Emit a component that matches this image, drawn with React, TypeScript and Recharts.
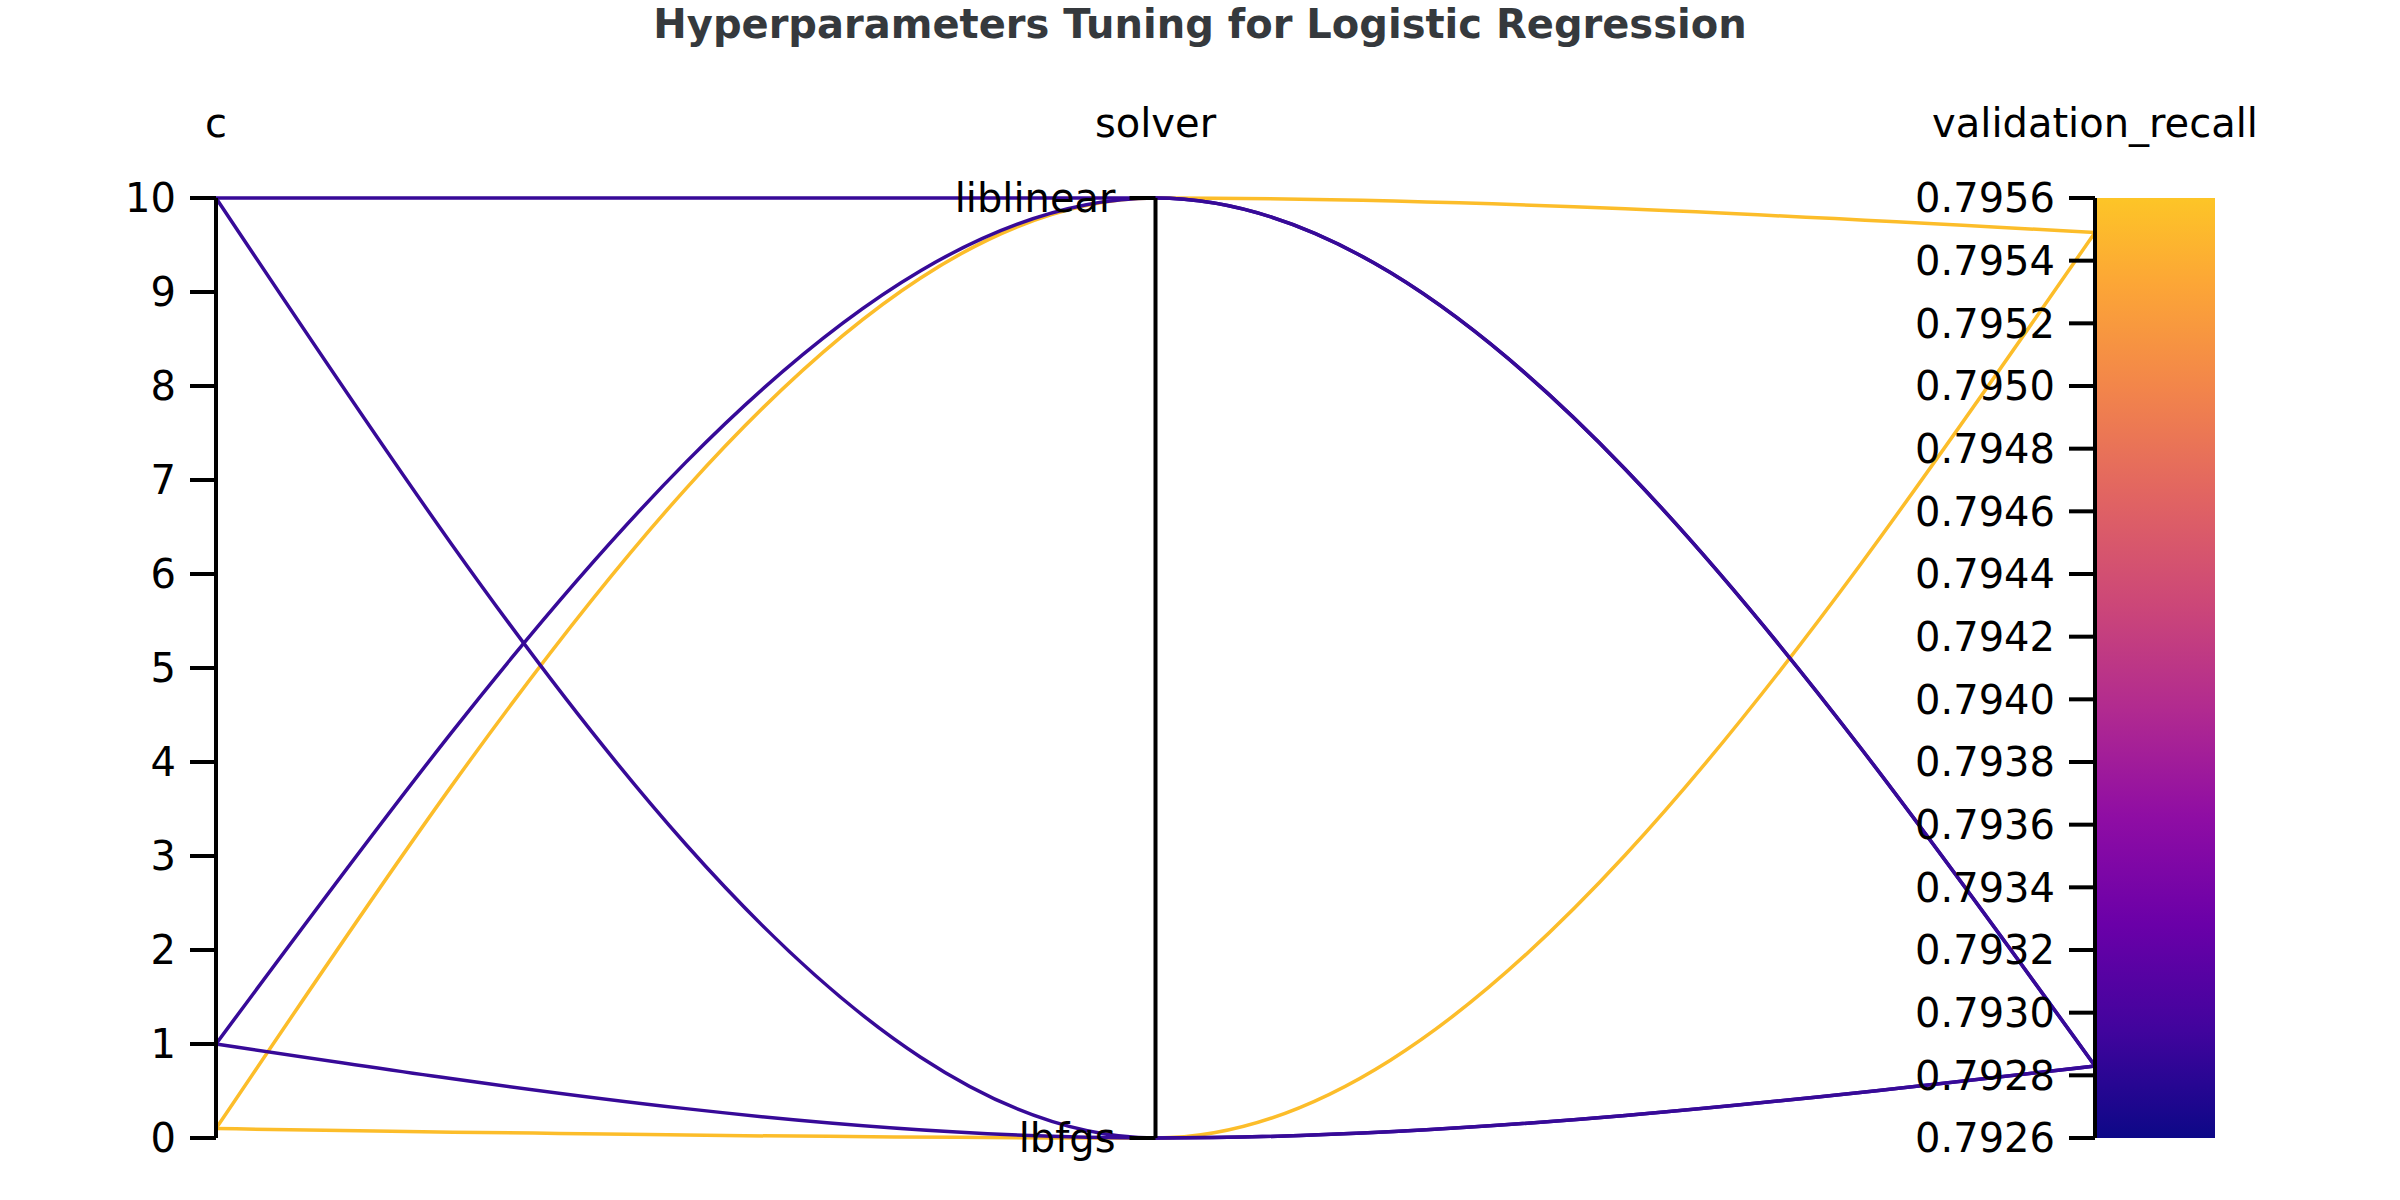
import React from 'react';
import { LineChart, Line, XAxis, YAxis, ReferenceLine, ReferenceDot } from 'recharts';

// ---- data ----
const chartTitle = 'Hyperparameters Tuning for Logistic Regression';
const axisNames = ['c', 'solver', 'validation_recall'];
const cValues = [10, 10, 1, 1, 0.1, 0.1];
const solverValues = ['liblinear', 'lbfgs', 'liblinear', 'lbfgs', 'liblinear', 'lbfgs'];
const recallValues = [0.79283, 0.79283, 0.79283, 0.79283, 0.79549, 0.79549];
const runColors = ['#370a98', '#370a98', '#370a98', '#370a98', '#fcbd2a', '#fcbd2a'];
const solverCategories = ['lbfgs', 'liblinear']; // bottom -> top
const cDomain = [0, 10];
const cTicks = [0, 1, 2, 3, 4, 5, 6, 7, 8, 9, 10];
const recallDomain = [0.7926, 0.7956];
const recallTicks = [0.7926, 0.7928, 0.793, 0.7932, 0.7934, 0.7936, 0.7938, 0.794, 0.7942, 0.7944, 0.7946, 0.7948, 0.795, 0.7952, 0.7954, 0.7956];
// colour scale of the colour bar (offset from top)
const scaleStops: [number, string][] = [
  [0, '#fdc527'],
  [0.091, '#fca636'],
  [0.205, '#f2844b'],
  [0.318, '#e16462'],
  [0.432, '#cc4778'],
  [0.545, '#b12a90'],
  [0.659, '#8f0da4'],
  [0.773, '#6a00a8'],
  [0.886, '#41049d'],
  [1, '#0d0887'],
];

const FONT = '"DejaVu Sans", sans-serif';
const FS = 40;
const SW = 3.5;
const AXW = 4;

const norm = (v: number, d: number[]) => (v - d[0]) / (d[1] - d[0]);

const rows = axisNames.map((_, pos) => {
  const r: Record<string, number> = { pos };
  cValues.forEach((_, i) => {
    let v = 0;
    if (pos === 0) v = norm(cValues[i], cDomain);
    else if (pos === 1) v = solverCategories.indexOf(solverValues[i]) / (solverCategories.length - 1);
    else v = norm(recallValues[i], recallDomain);
    r['run' + i] = v;
  });
  return r;
});

const ColorBar = (props: any) => {
  const vb = props.viewBox || {};
  const { x = 0, y = 0, width = 0, height = 0 } = vb;
  return (
    <g>
      <defs>
        <linearGradient id="cbarGrad" x1="0" y1="0" x2="0" y2="1">
          {scaleStops.map(([o, c]) => (
            <stop key={o} offset={o} stopColor={c} />
          ))}
        </linearGradient>
      </defs>
      <rect x={x + 2} y={y} width={width - 2} height={height} fill="url(#cbarGrad)" />
    </g>
  );
};

const SolverTick = (props: any) => {
  const { cx, cy, text } = props;
  return (
    <g>
      <line x1={cx - 26} x2={cx} y1={cy} y2={cy} stroke="#000" strokeWidth={AXW} />
      <text x={cx - 40} y={cy} dy="0.355em" textAnchor="end" fontSize={FS} fontFamily={FONT} fill="#000">
        {text}
      </text>
    </g>
  );
};

const tickStyle = { fontSize: FS, fill: '#000', fontFamily: FONT };
const axisLabel = (value: string) => ({ value, position: 'top' as const, offset: 61, fontSize: FS, fill: '#000', fontFamily: FONT });

export default function App() {
  return (
    <div style={{ position: 'absolute', left: 0, top: 0, width: 2400, height: 1200, background: '#fff' }}>
      <div
        style={{
          position: 'absolute',
          left: 0,
          top: 4,
          width: 2400,
          textAlign: 'center',
          fontFamily: FONT,
          fontWeight: 'bold',
          fontSize: FS,
          lineHeight: '40px',
          color: '#35393d',
        }}
      >
        {chartTitle}
      </div>
      <LineChart width={2400} height={1200} data={rows} margin={{ top: 198, bottom: 62, left: 96, right: 185 }}>
        <XAxis dataKey="pos" type="number" domain={[0, 2]} hide />
        <YAxis yAxisId="norm" type="number" domain={[0, 1]} hide />
        <YAxis
          yAxisId="c"
          orientation="left"
          type="number"
          width={120}
          domain={cDomain}
          allowDataOverflow
          ticks={cTicks}
          interval={0}
          axisLine={false}
          tickLine={{ stroke: '#000', strokeWidth: AXW }}
          tickSize={26}
          tickMargin={14}
          tick={tickStyle}
        />
        <YAxis
          yAxisId="recall"
          orientation="right"
          mirror
          type="number"
          width={200}
          domain={recallDomain}
          allowDataOverflow
          ticks={recallTicks}
          interval={0}
          allowDecimals
          tickFormatter={(v: number) => v.toFixed(4)}
          axisLine={false}
          tickLine={{ stroke: '#000', strokeWidth: AXW }}
          tickSize={26}
          tickMargin={14}
          tick={tickStyle}
        />
        <YAxis
          yAxisId="cbar"
          orientation="right"
          type="number"
          width={120}
          domain={recallDomain}
          allowDataOverflow
          tick={false}
          tickLine={false}
          axisLine={false}
          label={(p: any) => <ColorBar {...p} />}
        />
        {cValues.map((_, i) =>
          i >= 4 ? (
            <Line key={'y' + i} yAxisId="norm" dataKey={'run' + i} type="monotone" stroke={runColors[i]} strokeWidth={SW} dot={false} activeDot={false} isAnimationActive={false} />
          ) : null
        )}
        {cValues.map((_, i) =>
          i < 4 ? (
            <Line key={'p' + i} yAxisId="norm" dataKey={'run' + i} type="monotone" stroke={runColors[i]} strokeWidth={SW} dot={false} activeDot={false} isAnimationActive={false} />
          ) : null
        )}
        {axisNames.map((name, i) => (
          <ReferenceLine key={name} yAxisId="norm" x={i} stroke="#000" strokeWidth={AXW} label={axisLabel(name)} />
        ))}
        {solverCategories.map((cat, i) => (
          <ReferenceDot
            key={cat}
            yAxisId="norm"
            x={1}
            y={i / (solverCategories.length - 1)}
            r={0}
            shape={(p: any) => <SolverTick {...p} text={cat} />}
          />
        ))}
      </LineChart>
    </div>
  );
}
